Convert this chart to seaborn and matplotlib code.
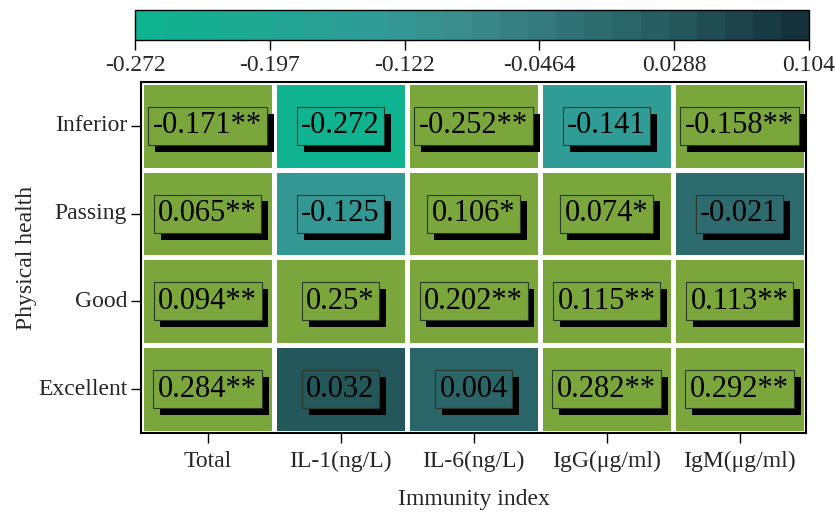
import numpy as np
import pandas as pd
import matplotlib
matplotlib.use("Agg")
import matplotlib.pyplot as plt
import matplotlib.patheffects as pe
from matplotlib.colors import LinearSegmentedColormap, ListedColormap
import seaborn as sns

rows = ["Inferior", "Passing", "Good", "Excellent"]
cols = ["Total", "IL-1(ng/L)", "IL-6(ng/L)", "IgG(μg/ml)", "IgM(μg/ml)"]

inferior = [-0.171, -0.272, -0.252, -0.141, -0.158]
passing = [0.065, -0.125, 0.106, 0.074, -0.021]
good = [0.094, 0.25, 0.202, 0.115, 0.113]
excellent = [0.284, 0.032, 0.004, 0.282, 0.292]

stars_inferior = ["**", "", "**", "", "**"]
stars_passing = ["**", "", "*", "*", ""]
stars_good = ["**", "*", "**", "**", "**"]
stars_excellent = ["**", "", "", "**", "**"]

vmin, vmax = -0.272, 0.104

df = pd.DataFrame([inferior, passing, good, excellent], index=rows, columns=cols)
stars = pd.DataFrame([stars_inferior, stars_passing, stars_good, stars_excellent],
                     index=rows, columns=cols)
sig = stars != ""

sns.set_theme(style="white")
plt.rcParams["font.family"] = ["Liberation Serif", "DejaVu Serif"]

green = "#7aa63c"
cmap = LinearSegmentedColormap.from_list(
    "teal", [(0.0, "#0fb38f"), (0.35, "#2f9c96"), (0.5, "#3c8a8a"),
             (0.67, "#2f6f73"), (0.81, "#245a5d"), (1.0, "#15313a")], N=24)

fig = plt.figure(figsize=(8.35, 5.14), dpi=100)
ax = fig.add_axes([0.1689, 0.1576, 0.7964, 0.6829])
cax = fig.add_axes([0.1617, 0.9222, 0.8072, 0.0584])

# significant cells in flat green, the rest on the colour scale
sns.heatmap(df, mask=~sig, cmap=ListedColormap([green]), cbar=False,
            linewidths=2.5, linecolor="white", ax=ax)
sns.heatmap(df, mask=sig, cmap=cmap, vmin=vmin, vmax=vmax,
            linewidths=2.5, linecolor="white", ax=ax, cbar_ax=cax,
            cbar_kws={"orientation": "horizontal"})

norm = plt.Normalize(vmin, vmax)
for i, r in enumerate(rows):
    for j, c in enumerate(cols):
        v = df.loc[r, c]
        face = green if sig.loc[r, c] else cmap(norm(v))
        txt = f"{v:g}{stars.loc[r, c]}"
        t = ax.text(j + 0.5, i + 0.5, txt, ha="center", va="center",
                    fontsize=22, color="black",
                    bbox=dict(boxstyle="square,pad=0.15", facecolor=face,
                              edgecolor="#2a3a2a", linewidth=0.8))
        t.get_bbox_patch().set_path_effects(
            [pe.SimplePatchShadow(offset=(5, -5), shadow_rgbFace="black", alpha=1),
             pe.Normal()])

for s in ax.spines.values():
    s.set_visible(True)
    s.set_color("black")
    s.set_linewidth(1.5)

ax.set_xlabel("Immunity index", fontsize=17, labelpad=12)
ax.set_ylabel("Physical health", fontsize=17, labelpad=1)
ax.tick_params(axis="x", length=7, width=1, color="black", labelsize=17,
               bottom=True, pad=6)
ax.tick_params(axis="y", length=7, width=1, color="black", labelsize=17,
               left=True, pad=3)
ax.set_yticklabels(rows, rotation=0)
ax.set_xticklabels(cols, rotation=0)

ticks = np.linspace(vmin, vmax, 6)
cbar = ax.collections[1].colorbar
cbar.set_ticks(ticks)
cbar.set_ticklabels([f"{t:.3g}" for t in ticks])
cbar.outline.set_visible(True)
cbar.outline.set_edgecolor("black")
cbar.outline.set_linewidth(1)
cax.tick_params(axis="x", bottom=True, length=7, width=1, color="black",
                labelsize=17, pad=4)

fig.savefig("out.png", dpi=100)
